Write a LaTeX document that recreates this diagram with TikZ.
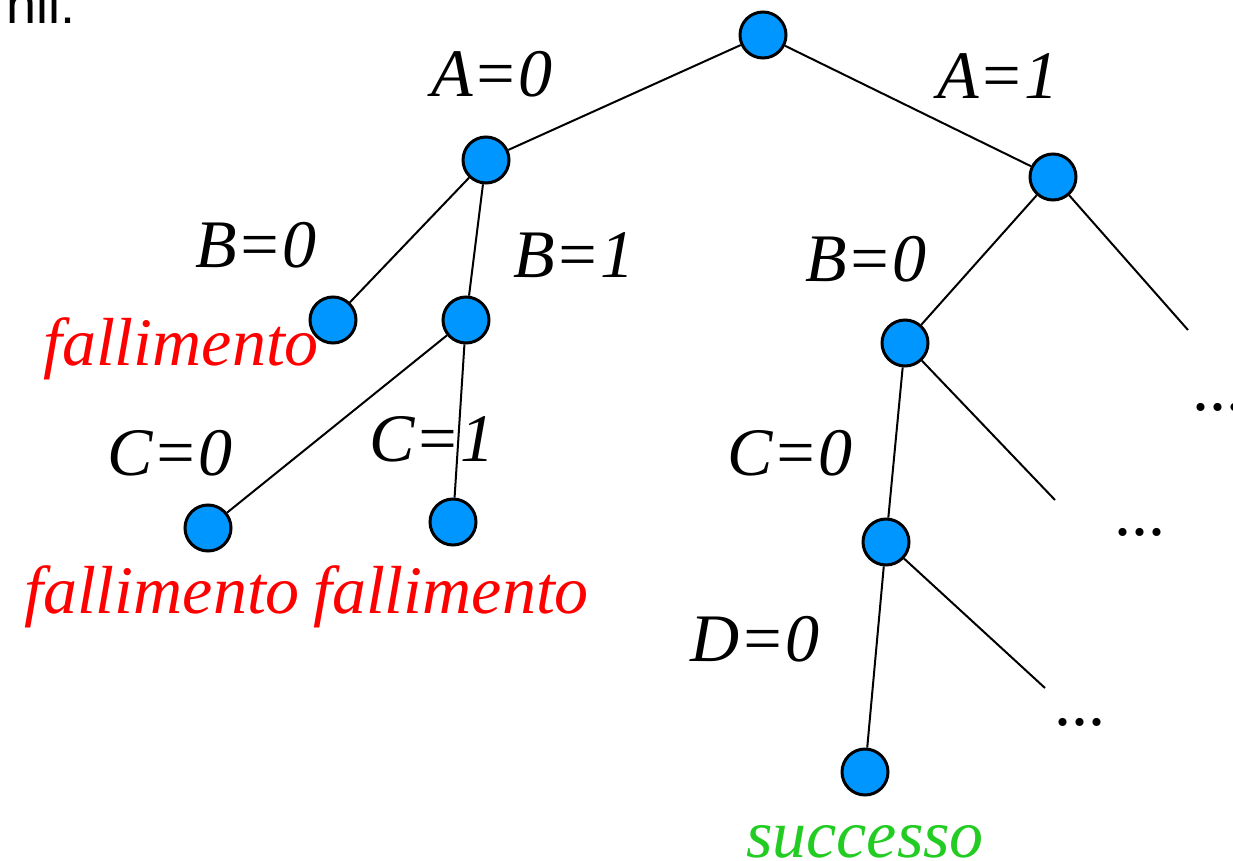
\documentclass[tikz,border=0pt]{standalone}
\usepackage{fontspec}
\setmainfont{Liberation Serif}
\newfontfamily\sansfont{Liberation Sans}
\usepackage{tikz}
\usetikzlibrary{positioning}
\definecolor{TreeBlue}{HTML}{0096FF}
\definecolor{FailRed}{HTML}{FF0000}
\definecolor{WinGreen}{HTML}{22CC22}

\begin{document}
\begin{tikzpicture}[
      x=1pt,y=-1pt,
      state/.style={circle,draw=black,line width=3pt,fill=TreeBlue,
        minimum size=46pt,inner sep=0pt},
      branch/.style={black,line width=2pt},
      choice/.style={anchor=base,inner sep=0pt,
        font=\fontsize{68}{80}\selectfont\itshape},
      outcome/.style={choice,text=FailRed},
      goal/.style={choice,text=WinGreen},
      more/.style={anchor=base west,inner sep=0pt,
        font=\fontsize{68}{80}\selectfont}
    ]
      \useasboundingbox (0,0) rectangle (1233,861);

      % nodes of the search tree
      \node[state] (r) at (763,35) {};
      \node[state] (a0) at (486,160) {};
      \node[state] (a1) at (1053,177) {};
      \node[state] (a0b0) at (333,320) {};
      \node[state] (a0b1) at (466,320) {};
      \node[state] (a1b0) at (905,343) {};
      \node[state] (c0) at (208,528) {};
      \node[state] (c1) at (453,522) {};
      \node[state] (a1c0) at (886,542) {};
      \node[state] (d0) at (865,772) {};

      % open branches
      \coordinate (e1) at (1188,330);
      \coordinate (e2) at (1055,500);
      \coordinate (e3) at (1045,688);

      \draw[branch] (r) -- (a0);
      \draw[branch] (r) -- (a1);
      \draw[branch] (a0) -- (a0b0);
      \draw[branch] (a0) -- (a0b1);
      \draw[branch] (a0b1) -- (c0);
      \draw[branch] (a0b1) -- (c1);
      \draw[branch] (a1) -- (a1b0);
      \draw[branch] (a1) -- (e1);
      \draw[branch] (a1b0) -- (a1c0);
      \draw[branch] (a1b0) -- (e2);
      \draw[branch] (a1c0) -- (d0);
      \draw[branch] (a1c0) -- (e3);

      % labels
      \node[choice] (la0) at (492,97) {A=0};
      \node[choice] (la1) at (998,99) {A=1};
      \node[choice] (lb0) at (256,267) {B=0};
      \node[choice] (lb1) at (574,277) {B=1};
      \node[choice] (lb0r) at (866,281) {B=0};
      \node[choice] (lc0) at (170,475) {C=0};
      \node[choice] (lc1) at (432,461) {C=1};
      \node[choice] (lc0r) at (790,475) {C=0};
      \node[choice] (ld0) at (755,661) {D=0};

      \node[outcome] (f1) at (181,365) {fallimento};
      \node[outcome] (f2) at (162,613) {fallimento};
      \node[outcome] (f3) at (451,613) {fallimento};
      \node[goal] (win) at (865,857) {successo};

      \node[more] (m1) at (1192,410) {...};
      \node[more] (m2) at (1114,535) {...};
      \node[more] (m3) at (1054,725) {...};

      \node[anchor=base east,inner sep=0pt,
        font=\sansfont\fontsize{54}{60}\selectfont] (nil) at (76,24) {nil:};
    \end{tikzpicture}
\end{document}
